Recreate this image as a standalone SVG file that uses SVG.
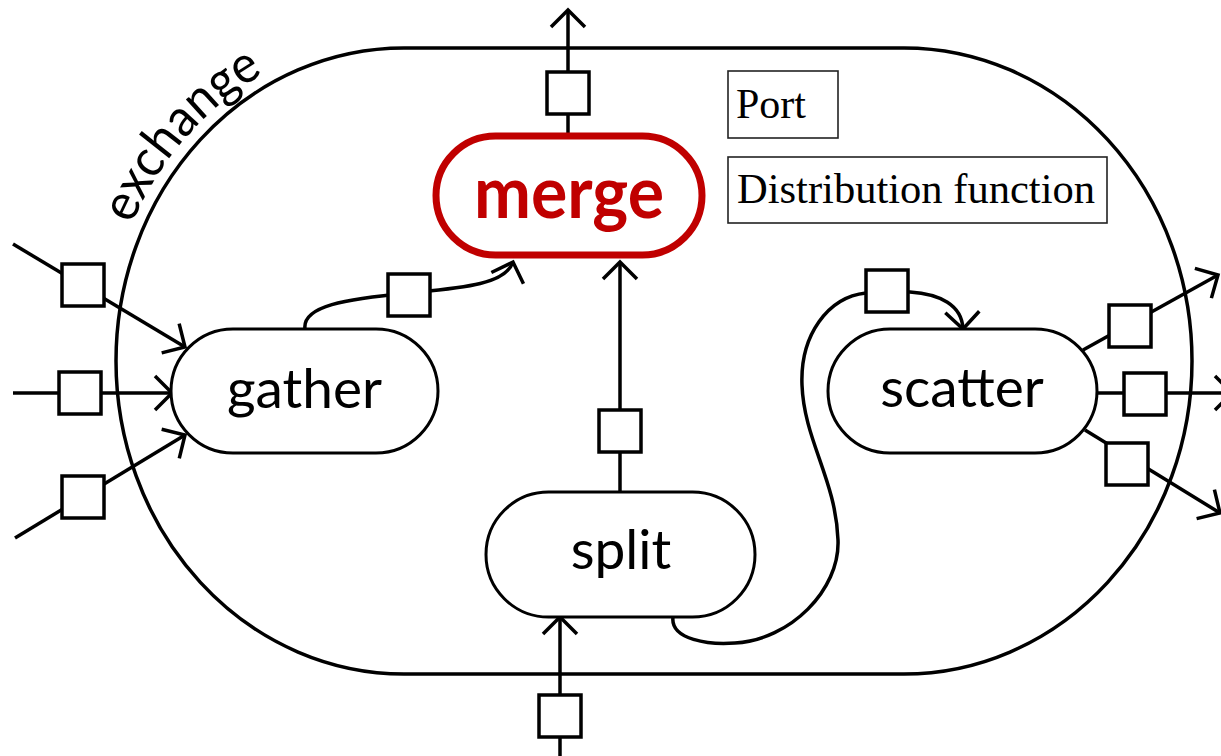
<svg xmlns="http://www.w3.org/2000/svg" width="1221" height="756" viewBox="0 0 1221 756">
  <defs>
    <style>
      .line { fill: none; stroke: #000; stroke-width: 3.5; }
      .port { fill: #fff; stroke: #000; stroke-width: 3.5; }
      .node { fill: #fff; stroke: #000; stroke-width: 3; }
      .label { font-family: Lato, "Open Sans", sans-serif; font-size: 55px; fill: #000; text-anchor: middle; }
      .legend { fill: #fff; stroke: #222; stroke-width: 1.6; }
      .legend-text { font-family: "Liberation Serif", "Times New Roman", serif; font-size: 42px; fill: #000; }
    </style>
    <marker id="arrow" markerUnits="userSpaceOnUse" viewBox="-20 -20 40 40" markerWidth="40" markerHeight="40" refX="0" refY="0" orient="auto" overflow="visible">
      <path d="M-17,-17 L0,0 L-17,17" fill="none" stroke="#000" stroke-width="3.5"/>
    </marker>
    <path id="exchange-baseline" d="M104,361 A300,325 0 0 1 404,36"/>
  </defs>

  <!-- enclosing exchange boundary -->
  <g id="exchange">
    <rect x="116" y="48" width="1076" height="626" rx="288" ry="313" fill="none" stroke="#000" stroke-width="3.5"/>
    <text class="label" style="text-anchor:start;font-size:52px">
      <textPath href="#exchange-baseline" startOffset="140" textLength="204" lengthAdjust="spacingAndGlyphs">exchange</textPath>
    </text>
  </g>

  <!-- connectors -->
  <g id="connectors">
    <path class="line" d="M568,133 L568,10" marker-end="url(#arrow)"/>
    <path class="line" d="M13,244 L185,347" marker-end="url(#arrow)"/>
    <path class="line" d="M13,393 L172,393" marker-end="url(#arrow)"/>
    <path class="line" d="M15,538 L185,435" marker-end="url(#arrow)"/>
    <path class="line" d="M305,329 C302,306 345,299 409,293 C460,288 505,285 513,262" marker-end="url(#arrow)"/>
    <path class="line" d="M620,492 L620,262" marker-end="url(#arrow)"/>
    <path class="line" d="M560,756 L560,617" marker-end="url(#arrow)"/>
    <path class="line" d="M673,617 C670,640 710,645 735,643 C790,640 840,590 838,540 C836,480 804,440 802,385 C800,335 828,297 866,293 C880,291 890,291 910,292 C940,294 962,305 963,329" marker-end="url(#arrow)"/>
    <path class="line" d="M1083,350 L1218,275" marker-end="url(#arrow)"/>
    <path class="line" d="M1097,393 L1232,393" marker-end="url(#arrow)"/>
    <path class="line" d="M1085,430 L1220,513" marker-end="url(#arrow)"/>
  </g>

  <!-- ports -->
  <g id="ports">
    <rect id="port-merge-out" class="port" x="547" y="72" width="42" height="42"/>
    <rect id="port-gather-in1" class="port" x="62" y="264" width="42" height="42"/>
    <rect id="port-gather-in2" class="port" x="59" y="372" width="42" height="42"/>
    <rect id="port-gather-in3" class="port" x="62" y="476" width="42" height="42"/>
    <rect id="port-gather-merge" class="port" x="388" y="274" width="42" height="42"/>
    <rect id="port-split-merge" class="port" x="599" y="410" width="42" height="42"/>
    <rect id="port-split-in" class="port" x="539" y="695" width="42" height="42"/>
    <rect id="port-split-scatter" class="port" x="866" y="270" width="42" height="42"/>
    <rect id="port-scatter-out1" class="port" x="1109" y="305" width="42" height="42"/>
    <rect id="port-scatter-out2" class="port" x="1124" y="373" width="42" height="42"/>
    <rect id="port-scatter-out3" class="port" x="1106" y="443" width="42" height="42"/>
  </g>

  <!-- distribution functions -->
  <g id="merge">
    <rect x="436" y="136" width="266" height="119" rx="59.5" ry="59.5" fill="#fff" stroke="#C00000" stroke-width="7"/>
    <text class="label" x="569" y="218" textLength="190" lengthAdjust="spacingAndGlyphs" style="fill:#C00000;font-size:72px;font-weight:bold">merge</text>
  </g>
  <g id="gather">
    <rect class="node" x="171" y="329" width="267" height="124" rx="62" ry="62"/>
    <text class="label" x="304.5" y="408">gather</text>
  </g>
  <g id="scatter">
    <rect class="node" x="828" y="329" width="269" height="124" rx="62" ry="62"/>
    <text class="label" x="962" y="407">scatter</text>
  </g>
  <g id="split">
    <rect class="node" x="486" y="492" width="269" height="125" rx="62.5" ry="62.5"/>
    <text class="label" x="621" y="569">split</text>
  </g>

  <!-- legend -->
  <g id="legend-port">
    <rect class="legend" x="728" y="71" width="110" height="67"/>
    <text class="legend-text" x="736" y="118">Port</text>
  </g>
  <g id="legend-function">
    <rect class="legend" x="728" y="157" width="379" height="66"/>
    <text class="legend-text" x="737" y="203" textLength="358" lengthAdjust="spacingAndGlyphs">Distribution function</text>
  </g>
</svg>
